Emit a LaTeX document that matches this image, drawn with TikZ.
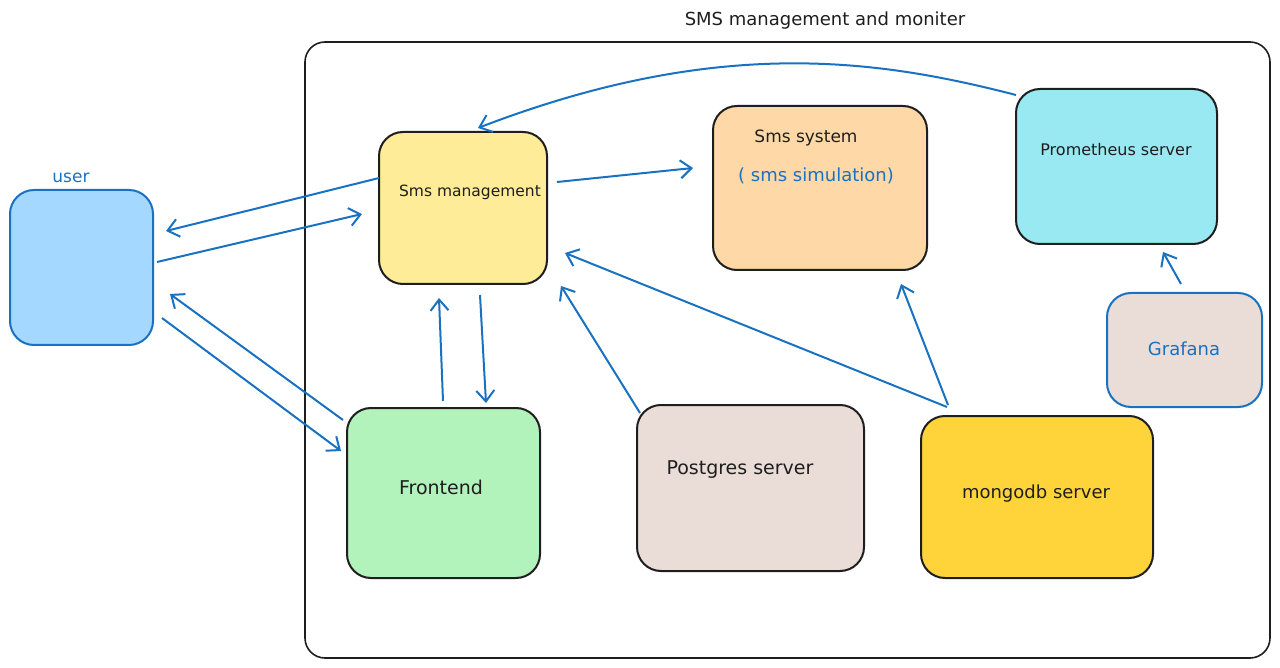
\documentclass[tikz,border=0pt]{standalone}
\usepackage{fontspec}
\setmainfont{DejaVu Sans}
\usetikzlibrary{arrows.meta}
\definecolor{exblue}{HTML}{1971C2}
\definecolor{exblack}{HTML}{1E1E1E}
\definecolor{userfill}{HTML}{A5D8FF}
\definecolor{mgmtfill}{HTML}{FFEC99}
\definecolor{sysfill}{HTML}{FFD8A8}
\definecolor{promfill}{HTML}{99E9F2}
\definecolor{greyfill}{HTML}{EADDD7}
\definecolor{frontfill}{HTML}{B2F2BB}
\definecolor{mongofill}{HTML}{FFD43B}
\tikzset{
  box/.style={draw=exblack, line width=2pt, rounded corners=24pt, inner sep=0pt},
  bluebox/.style={box, draw=exblue},
  lbl/.style={font=\fontsize{#1}{24}\selectfont, text=exblack, inner sep=0pt},
  lbl/.default=15,
  bluelbl/.style={lbl=#1, text=exblue},
  bluelbl/.default=15,
  arr/.style={draw=exblue, line width=2pt, -{Straight Barb[length=11pt,width=18pt,line width=2pt]}},
}
\begin{document}
\begin{tikzpicture}[x=1pt,y=-1pt]
\useasboundingbox (0,0) rectangle (1280,668);
% container
\node[draw=exblack, line width=1.6pt, rounded corners=20pt, minimum width=965pt, minimum height=616pt, inner sep=0pt] (cont) at (787.5,350) {};
\node[lbl=18] (title) at (825,21) {SMS management and moniter};
% boxes
\node[bluebox, fill=userfill, minimum width=143pt, minimum height=155pt] (user) at (81.5,267.5) {};
\node[bluelbl=17] (userlbl) at (71,178) {user};
\node[box, fill=mgmtfill, minimum width=168pt, minimum height=152pt] (mgmt) at (463,208) {};
\node[lbl=15.5] (mgmtlbl) at (470,192) {Sms management};
\node[box, fill=sysfill, minimum width=214pt, minimum height=164pt] (sys) at (820,188) {};
\node[lbl=17] (syslbl) at (806,138) {Sms system};
\node[bluelbl=18] (simlbl) at (816,176) {( sms simulation)};
\node[box, fill=promfill, minimum width=201pt, minimum height=155pt] (prom) at (1116.5,166.5) {};
\node[lbl=16] (promlbl) at (1116,150) {Prometheus server};
\node[bluebox, fill=greyfill, minimum width=155pt, minimum height=114pt] (graf) at (1184.5,350) {};
\node[bluelbl=18] (graflbl) at (1184,349) {Grafana};
\node[box, fill=frontfill, minimum width=193pt, minimum height=170pt] (front) at (443.5,493) {};
\node[lbl=19] (frontlbl) at (441,487) {Frontend};
\node[box, fill=greyfill, minimum width=227pt, minimum height=166pt] (pg) at (750.5,488) {};
\node[lbl=19] (pglbl) at (740,470) {Postgres server};
\node[box, fill=mongofill, minimum width=232pt, minimum height=162pt] (mongo) at (1037,497) {};
\node[lbl=18] (mongolbl) at (1036,494) {mongodb server};
% connectors
\draw[arr] ([shift={(-84,-30)}]mgmt.center) -- ([shift={(84.5,-36.5)}]user.center);
\draw[arr] ([shift={(75.5,-5.5)}]user.center) -- ([shift={(-101,6)}]mgmt.center);
\draw[arr] ([shift={(-100.5,-73)}]front.center) -- ([shift={(88.5,26.5)}]user.center);
\draw[arr] ([shift={(80.5,50.5)}]user.center) -- ([shift={(-102.5,-42)}]front.center);
\draw[arr] ([shift={(-0.5,-92)}]front.center) -- ([shift={(-24,90)}]mgmt.center);
\draw[arr] ([shift={(17,87)}]mgmt.center) -- ([shift={(42.5,-90)}]front.center);
\draw[arr] ([shift={(94,-26)}]mgmt.center) -- ([shift={(-127,-20)}]sys.center);
\draw[arr] ([shift={(-110.5,-75)}]pg.center) -- ([shift={(98,78)}]mgmt.center);
\draw[arr] ([shift={(-90,-90)}]mongo.center) -- ([shift={(102,45)}]mgmt.center);
\draw[arr] ([shift={(-89,-92)}]mongo.center) -- ([shift={(81,96)}]sys.center);
\draw[arr] ([shift={(-3.5,-66)}]graf.center) -- ([shift={(46.5,85.5)}]prom.center);
\draw[arr] ([shift={(-100.5,-71.5)}]prom.center) .. controls (880,60) and (720,35) .. ([shift={(15,-80)}]mgmt.center);
\end{tikzpicture}
\end{document}
